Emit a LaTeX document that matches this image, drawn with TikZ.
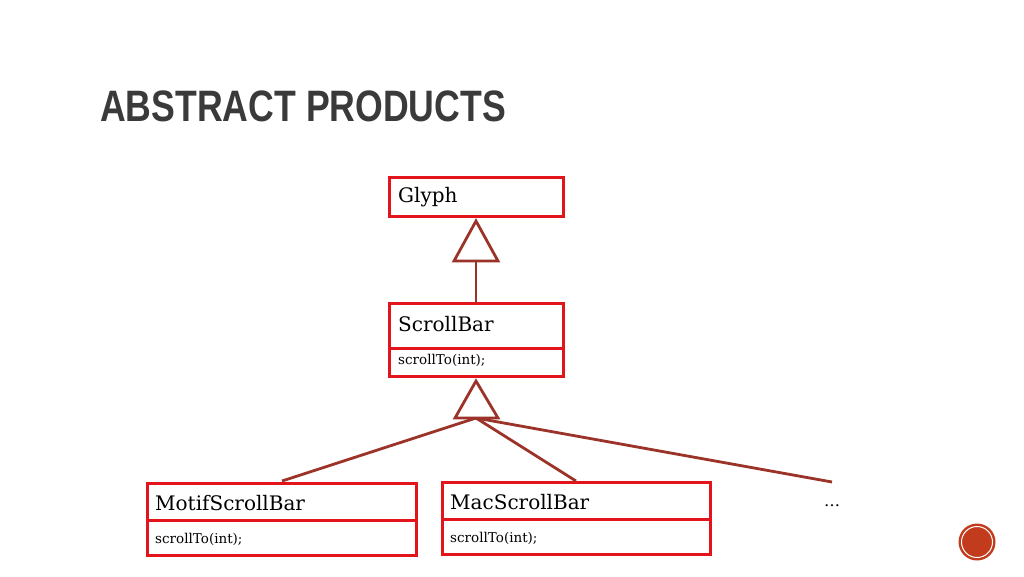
\documentclass[tikz,border=0pt]{standalone}
\usepackage{fontspec}
\setmainfont{DejaVu Serif}
\newfontfamily\titlefont{Liberation Sans}
\definecolor{boxred}{HTML}{E3141B}
\definecolor{linkred}{HTML}{9B3328}
\definecolor{titlegray}{HTML}{3A3A3A}
\definecolor{dotred}{HTML}{C23B1C}
\begin{document}
\begin{tikzpicture}[x=1pt,y=-1pt,
  cls/.style={draw=boxred,line width=3pt,fill=white},
  link/.style={draw=linkred,line width=2.8pt},
  tri/.style={draw=linkred,line width=2.8pt,fill=white,line join=miter},
  big/.style={anchor=west,inner sep=0,font=\fontsize{20}{24}\selectfont},
  small/.style={anchor=west,inner sep=0,font=\fontsize{13.5}{16}\selectfont}]
\useasboundingbox (0,0) rectangle (1024,576);
\node[anchor=west,text=titlegray,font=\titlefont\bfseries\fontsize{44}{48}\selectfont,xscale=0.81,inner sep=0] (title) at (100,106) {ABSTRACT PRODUCTS};
% Glyph
\draw[cls] (389,177) rectangle (563,216);
\node[big] (glyph) at (398,197) {Glyph};
% ScrollBar
\draw[cls] (389,303) rectangle (563,376);
\draw[cls] (389,348) -- (563,348);
\node[big] (sb) at (398,324) {ScrollBar};
\node[small] (sbop) at (398,360) {scrollTo(int);};
% Motif
\draw[cls] (147,483) rectangle (416,555);
\draw[cls] (147,520) -- (416,520);
\node[big] (motif) at (155,503) {MotifScrollBar};
\node[small] (motifop) at (155,539) {scrollTo(int);};
% Mac
\draw[cls] (442,482) rectangle (710,554);
\draw[cls] (442,519) -- (710,519);
\node[big] (mac) at (450,502) {MacScrollBar};
\node[small] (macop) at (450,538) {scrollTo(int);};
\node[font=\fontsize{16}{18}\selectfont] (dots) at (832,506) {\dots};
% links
\coordinate (t1) at (476,261);
\coordinate (sbtop) at (476,303);
\draw[link] (t1) -- (sbtop);
\draw[tri] (476,221) -- (498,261) -- (454,261) -- cycle;
\coordinate (t2) at (476,418);
\coordinate (m) at (282,481);
\coordinate (mc) at (576,481);
\coordinate (d) at (832,482);
\draw[link] (t2) -- (m);
\draw[link] (t2) -- (mc);
\draw[link] (t2) -- (d);
\draw[tri] (476,381) -- (498,418) -- (455,418) -- cycle;
% page dot
\fill[dotred] (977,542) circle (18.5);
\draw[white,line width=1pt] (977,542) circle (15.5);
\end{tikzpicture}
\end{document}
